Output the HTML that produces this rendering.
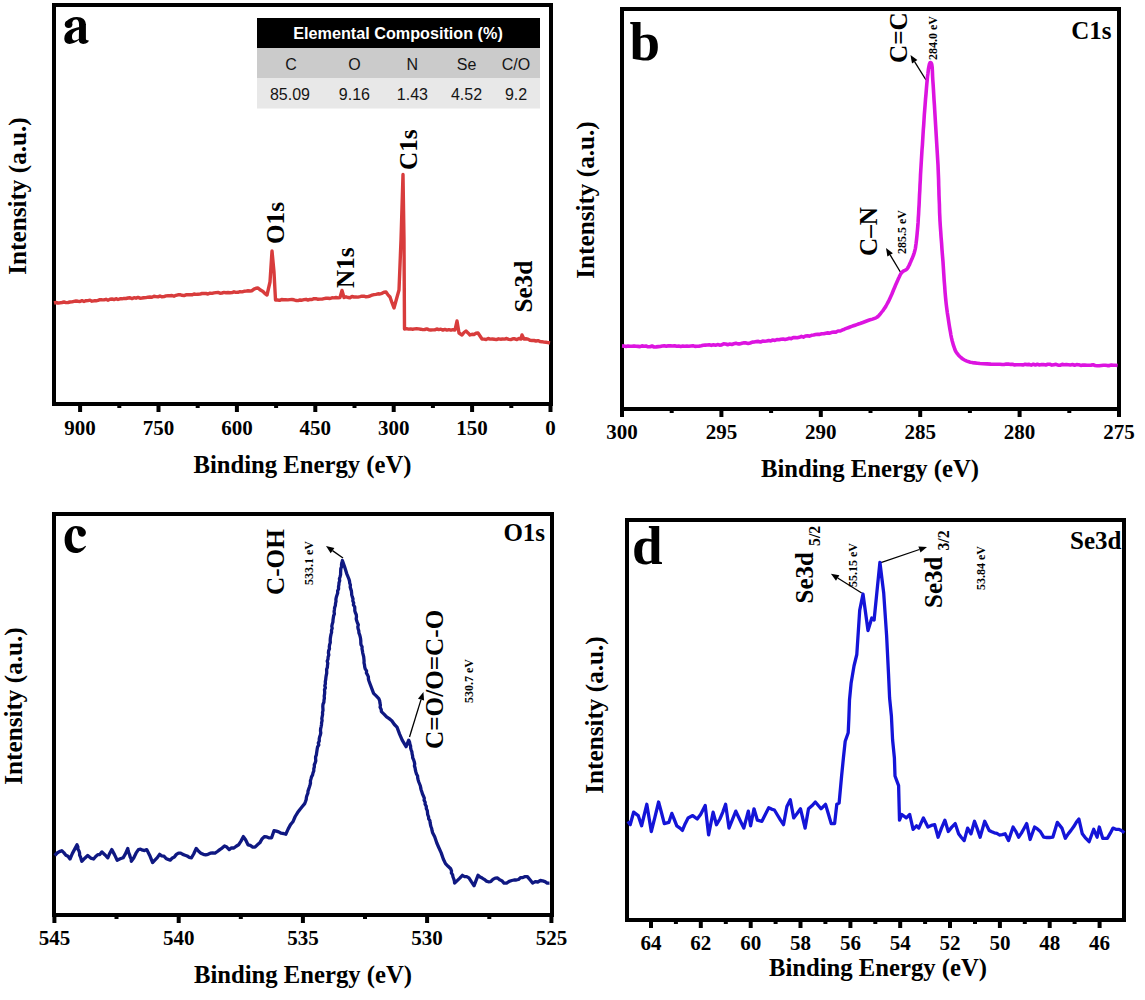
<!DOCTYPE html>
<html><head><meta charset="utf-8"><style>html,body{margin:0;padding:0;background:#fff}svg{display:block}</style></head>
<body><svg width="1145" height="1000" viewBox="0 0 1145 1000">
<rect width="1145" height="1000" fill="#fff"/>
<rect x="54.0" y="5.0" width="497" height="399" fill="none" stroke="#000" stroke-width="4"/>
<rect x="548.5" y="405" width="4" height="7" fill="#000"/>
<rect x="470.1" y="405" width="4" height="7" fill="#000"/>
<rect x="391.7" y="405" width="4" height="7" fill="#000"/>
<rect x="313.3" y="405" width="4" height="7" fill="#000"/>
<rect x="234.9" y="405" width="4" height="7" fill="#000"/>
<rect x="156.5" y="405" width="4" height="7" fill="#000"/>
<rect x="78.1" y="405" width="4" height="7" fill="#000"/>
<rect x="509.3" y="405" width="4" height="3" fill="#000"/>
<rect x="430.9" y="405" width="4" height="3" fill="#000"/>
<rect x="352.5" y="405" width="4" height="3" fill="#000"/>
<rect x="274.1" y="405" width="4" height="3" fill="#000"/>
<rect x="195.7" y="405" width="4" height="3" fill="#000"/>
<rect x="117.3" y="405" width="4" height="3" fill="#000"/>
<text x="550.5" y="434.5" text-anchor="middle" style="font-family:'Liberation Serif',serif;font-weight:bold;font-size:21px" >0</text>
<text x="472.1" y="434.5" text-anchor="middle" style="font-family:'Liberation Serif',serif;font-weight:bold;font-size:21px" >150</text>
<text x="393.7" y="434.5" text-anchor="middle" style="font-family:'Liberation Serif',serif;font-weight:bold;font-size:21px" >300</text>
<text x="315.3" y="434.5" text-anchor="middle" style="font-family:'Liberation Serif',serif;font-weight:bold;font-size:21px" >450</text>
<text x="236.9" y="434.5" text-anchor="middle" style="font-family:'Liberation Serif',serif;font-weight:bold;font-size:21px" >600</text>
<text x="158.5" y="434.5" text-anchor="middle" style="font-family:'Liberation Serif',serif;font-weight:bold;font-size:21px" >750</text>
<text x="80.1" y="434.5" text-anchor="middle" style="font-family:'Liberation Serif',serif;font-weight:bold;font-size:21px" >900</text>
<text x="302.5" y="473.0" text-anchor="middle" style="font-family:'Liberation Serif',serif;font-weight:bold;font-size:24.7px" >Binding Energy (eV)</text>
<text transform="translate(26.0,196.0) rotate(-90)" text-anchor="middle" style="font-family:'Liberation Serif',serif;font-weight:bold;font-size:25.2px" >Intensity (a.u.)</text>
<g fill="#000"><circle cx="68.6" cy="24.3" r="3.8"/><path d="M66,22.2 C68.5,18.6 72.5,17 76.8,17 C82.6,17 85.9,19.8 85.9,25 L79.1,25.5 C79.1,21.2 78,19.4 75.8,19.4 C73.9,19.4 72.7,20.6 72.2,22.8 Z"/><path d="M79.1,24 L85.9,24 L85.9,38.6 C85.9,40.1 86.6,40.6 88.4,40.1 L88.6,41.4 C86.8,43.2 84.8,43.9 83.1,43.9 C80.6,43.9 79.1,42.6 78.8,40.6 Z"/><path fill-rule="evenodd" d="M79.4,27.1 C73.5,28.3 64.3,30.6 64.3,38.6 C64.3,41.9 66.4,43.9 69.5,43.9 C72.6,43.9 75.8,42.5 79.4,39.6 Z M79.4,29.6 C75.3,30.7 72,32.6 72,36.9 C72,39.1 73,40.4 74.7,40.4 C76.4,40.4 78,39.6 79.4,38.6 Z"/></g>
<rect x="257" y="18" width="283" height="30" fill="#000"/>
<rect x="257" y="48" width="283" height="30" fill="#cbcbcb"/>
<rect x="257" y="78" width="283" height="30.5" fill="#e8e8e8"/>
<text x="398" y="39" text-anchor="middle" style="font-family:'Liberation Sans',sans-serif;font-weight:bold;font-size:16.2px" fill="#fff">Elemental Composition (%)</text>
<text x="291" y="70" text-anchor="middle" style="font-family:'Liberation Sans',sans-serif;font-size:16px" fill="#151515">C</text>
<text x="354.4" y="70" text-anchor="middle" style="font-family:'Liberation Sans',sans-serif;font-size:16px" fill="#151515">O</text>
<text x="412.4" y="70" text-anchor="middle" style="font-family:'Liberation Sans',sans-serif;font-size:16px" fill="#151515">N</text>
<text x="466.5" y="70" text-anchor="middle" style="font-family:'Liberation Sans',sans-serif;font-size:16px" fill="#151515">Se</text>
<text x="516" y="70" text-anchor="middle" style="font-family:'Liberation Sans',sans-serif;font-size:16px" fill="#151515">C/O</text>
<text x="290" y="100" text-anchor="middle" style="font-family:'Liberation Sans',sans-serif;font-size:16px" fill="#151515">85.09</text>
<text x="354.4" y="100" text-anchor="middle" style="font-family:'Liberation Sans',sans-serif;font-size:16px" fill="#151515">9.16</text>
<text x="412.4" y="100" text-anchor="middle" style="font-family:'Liberation Sans',sans-serif;font-size:16px" fill="#151515">1.43</text>
<text x="466.5" y="100" text-anchor="middle" style="font-family:'Liberation Sans',sans-serif;font-size:16px" fill="#151515">4.52</text>
<text x="516" y="100" text-anchor="middle" style="font-family:'Liberation Sans',sans-serif;font-size:16px" fill="#151515">9.2</text>
<text transform="translate(284.0,244.0) rotate(-90)" text-anchor="start" style="font-family:'Liberation Serif',serif;font-weight:bold;font-size:25.2px" >O1s</text>
<text transform="translate(353.5,288.0) rotate(-90)" text-anchor="start" style="font-family:'Liberation Serif',serif;font-weight:bold;font-size:25.2px" >N1s</text>
<text transform="translate(417.4,170.0) rotate(-90)" text-anchor="start" style="font-family:'Liberation Serif',serif;font-weight:bold;font-size:25.2px" >C1s</text>
<text transform="translate(531.8,312.6) rotate(-90)" text-anchor="start" style="font-family:'Liberation Serif',serif;font-weight:bold;font-size:25.2px" >Se3d</text>
<polyline points="54.0,303.0 56.0,302.5 58.0,303.0 60.0,302.8 62.0,302.5 64.0,302.0 66.0,302.6 68.0,302.5 70.0,302.0 72.0,301.9 74.0,301.4 76.0,301.0 78.0,301.3 80.0,301.5 82.0,300.7 84.0,301.5 86.0,300.7 88.0,300.6 90.0,300.2 92.0,301.2 94.0,300.8 96.0,300.8 98.0,300.4 100.0,299.6 102.0,299.8 104.0,299.9 106.0,299.3 108.0,300.2 110.0,299.3 112.0,299.0 114.0,299.6 116.0,298.7 118.0,299.5 120.0,298.8 122.0,298.8 124.0,298.4 126.0,298.5 128.0,298.0 130.0,297.7 132.0,298.6 134.0,297.7 136.0,298.2 138.0,297.4 140.0,298.2 142.0,298.0 144.0,297.7 146.0,297.6 148.0,297.2 150.0,297.0 152.0,297.2 154.0,296.3 156.0,296.6 158.0,296.9 160.0,296.0 162.0,296.8 164.0,296.6 166.0,295.9 168.0,295.8 170.0,295.7 172.0,295.5 174.0,296.2 176.0,295.3 178.0,294.8 180.0,294.7 182.0,295.3 184.0,295.6 186.0,294.8 188.0,294.7 190.0,294.7 192.0,294.8 194.0,294.0 196.0,294.4 198.0,294.2 200.0,294.1 202.0,293.5 204.0,293.4 206.0,293.5 208.0,294.0 210.0,293.2 212.0,293.4 214.0,292.9 216.0,292.6 218.0,292.4 220.0,293.2 222.0,293.0 224.0,292.4 226.0,292.7 228.0,292.5 230.0,292.7 232.0,292.6 234.0,291.8 236.0,292.4 238.0,292.3 240.0,291.7 242.0,291.9 244.0,291.3 246.0,291.1 248.0,290.8 250.0,291.0 252.0,290.7 254.0,289.1 256.0,288.2 258.0,288.0 260.5,290.1 263.0,291.5 265.0,293.6 267.0,295.0 270.0,282.0 272.0,251.0 274.0,272.0 275.5,300.0 277.5,300.0 279.6,300.4 281.6,299.5 283.7,299.7 285.7,299.7 287.8,299.9 289.8,299.6 291.8,299.5 293.9,299.8 295.9,300.5 298.0,300.6 300.0,300.0 302.0,300.2 304.0,299.7 306.0,299.3 308.0,300.1 310.0,299.4 312.0,299.5 314.0,298.6 316.0,298.7 318.0,299.3 320.0,299.1 322.0,299.1 324.0,298.6 326.0,298.3 328.0,298.3 330.0,298.5 332.0,297.8 334.0,297.9 336.0,297.5 338.0,297.9 340.0,297.5 342.0,290.5 344.0,297.5 346.0,296.8 348.0,297.5 350.0,297.7 352.0,296.5 354.0,297.0 356.0,297.0 358.0,297.1 360.0,296.7 362.0,296.2 364.0,296.2 366.0,296.8 368.0,296.6 370.0,296.0 372.0,295.2 374.0,294.7 376.0,294.3 378.0,293.8 380.0,294.0 382.0,293.3 384.0,292.2 386.0,292.0 388.0,294.9 390.0,297.0 392.0,302.7 394.0,308.0 396.5,299.0 399.0,290.0 401.0,240.0 403.0,174.5 404.0,240.0 404.5,329.0 406.5,328.6 408.5,329.1 410.6,328.9 412.6,329.2 414.6,328.9 416.6,328.8 418.6,328.9 420.7,329.2 422.7,329.6 424.7,329.5 426.7,328.9 428.7,329.7 430.8,330.0 432.8,329.9 434.8,329.9 436.8,329.0 438.8,329.6 440.9,329.2 442.9,330.1 444.9,329.4 446.9,330.1 448.9,329.6 451.0,330.2 453.0,329.7 455.0,330.0 457.0,321.0 459.0,333.0 462.0,335.0 464.0,332.5 466.0,331.0 468.0,332.9 470.0,335.0 472.0,334.3 474.0,334.5 476.0,333.3 478.0,333.0 480.0,336.0 482.0,339.0 484.1,339.1 486.1,339.5 488.2,338.5 490.2,339.1 492.3,339.0 494.3,339.3 496.4,339.6 498.4,338.8 500.5,339.2 502.5,339.0 504.6,339.1 506.6,338.5 508.7,339.4 510.7,339.6 512.8,338.8 514.8,338.8 516.9,339.6 518.9,338.5 521.0,339.0 522.0,335.0 524.0,339.0 526.0,338.8 528.0,339.1 530.0,340.3 532.0,340.5 534.0,340.5 536.0,341.0 538.0,340.6 540.0,341.6 542.0,341.7 544.0,342.1 546.0,342.3 548.0,342.6 550.0,343.0" fill="none" stroke="#d83c3c" stroke-width="3.4" stroke-linejoin="round"/>
<rect x="622.0" y="9.0" width="497" height="400" fill="none" stroke="#000" stroke-width="4"/>
<rect x="1117.0" y="410" width="4" height="7" fill="#000"/>
<rect x="1017.6" y="410" width="4" height="7" fill="#000"/>
<rect x="918.2" y="410" width="4" height="7" fill="#000"/>
<rect x="818.8" y="410" width="4" height="7" fill="#000"/>
<rect x="719.4" y="410" width="4" height="7" fill="#000"/>
<rect x="620.0" y="410" width="4" height="7" fill="#000"/>
<rect x="1067.3" y="410" width="4" height="3" fill="#000"/>
<rect x="967.9" y="410" width="4" height="3" fill="#000"/>
<rect x="868.5" y="410" width="4" height="3" fill="#000"/>
<rect x="769.1" y="410" width="4" height="3" fill="#000"/>
<rect x="669.7" y="410" width="4" height="3" fill="#000"/>
<text x="1119.0" y="439.0" text-anchor="middle" style="font-family:'Liberation Serif',serif;font-weight:bold;font-size:21px" >275</text>
<text x="1019.6" y="439.0" text-anchor="middle" style="font-family:'Liberation Serif',serif;font-weight:bold;font-size:21px" >280</text>
<text x="920.2" y="439.0" text-anchor="middle" style="font-family:'Liberation Serif',serif;font-weight:bold;font-size:21px" >285</text>
<text x="820.8" y="439.0" text-anchor="middle" style="font-family:'Liberation Serif',serif;font-weight:bold;font-size:21px" >290</text>
<text x="721.4" y="439.0" text-anchor="middle" style="font-family:'Liberation Serif',serif;font-weight:bold;font-size:21px" >295</text>
<text x="622.0" y="439.0" text-anchor="middle" style="font-family:'Liberation Serif',serif;font-weight:bold;font-size:21px" >300</text>
<text x="870.0" y="477.0" text-anchor="middle" style="font-family:'Liberation Serif',serif;font-weight:bold;font-size:24.7px" >Binding Energy (eV)</text>
<text transform="translate(594.0,200.0) rotate(-90)" text-anchor="middle" style="font-family:'Liberation Serif',serif;font-weight:bold;font-size:25.2px" >Intensity (a.u.)</text>
<text x="629.5" y="60.0" text-anchor="start" style="font-family:'Liberation Serif',serif;font-weight:bold;font-size:55px" >b</text>
<text x="1111.5" y="39.0" text-anchor="end" style="font-family:'Liberation Serif',serif;font-weight:bold;font-size:25px" >C1s</text>
<text transform="translate(906.5,63.0) rotate(-90)" text-anchor="start" style="font-family:'Liberation Serif',serif;font-weight:bold;font-size:25.2px" >C=C</text>
<text transform="translate(936.5,60.0) rotate(-90)" text-anchor="start" style="font-family:'Liberation Serif',serif;font-weight:bold;font-size:12px" >284.0 eV</text>
<text transform="translate(877.0,256.0) rotate(-90)" text-anchor="start" style="font-family:'Liberation Serif',serif;font-weight:bold;font-size:25.2px" >C–N</text>
<text transform="translate(906.0,254.0) rotate(-90)" text-anchor="start" style="font-family:'Liberation Serif',serif;font-weight:bold;font-size:12px" >285.5 eV</text>
<line x1="926" y1="80" x2="914.7" y2="61.8" stroke="#000" stroke-width="1.3"/>
<polygon points="910.5,55 917.4,60.1 912.0,63.5" fill="#000"/>
<line x1="901" y1="273" x2="890.1" y2="254.9" stroke="#000" stroke-width="1.3"/>
<polygon points="886,248 892.9,253.2 887.4,256.5" fill="#000"/>
<polyline points="622.0,345.9 624.0,346.1 626.0,346.5 628.0,346.1 630.0,346.2 632.0,346.3 634.0,345.9 636.0,346.3 638.0,346.4 640.0,346.6 642.0,345.9 644.0,346.2 646.0,346.0 648.0,346.8 650.0,346.7 652.0,346.0 654.1,347.0 656.1,346.9 658.2,346.6 660.2,346.5 662.3,346.0 664.3,345.8 666.4,346.3 668.4,345.8 670.5,345.9 672.5,346.0 674.6,345.7 676.6,346.2 678.7,346.1 680.7,346.5 682.8,346.1 684.8,346.2 686.9,346.1 688.9,346.2 691.0,346.0 693.0,345.8 695.0,346.4 697.1,346.3 699.1,346.1 701.2,345.8 703.2,345.3 705.2,345.1 707.3,345.0 709.3,344.7 711.4,345.4 713.4,344.8 715.5,345.2 717.5,344.6 719.5,345.1 721.6,344.9 723.6,343.9 725.7,344.0 727.7,344.7 729.8,344.1 731.8,344.5 733.8,343.8 735.9,343.3 737.9,343.9 740.0,343.9 742.0,343.2 744.1,342.8 746.1,342.9 748.2,343.4 750.2,343.0 752.3,342.1 754.3,342.0 756.4,341.6 758.4,341.4 760.5,342.0 762.6,341.1 764.6,341.3 766.7,341.0 768.7,340.5 770.8,340.9 772.8,340.0 774.9,340.4 776.9,339.6 779.0,339.7 781.0,339.2 783.1,339.0 785.1,339.5 787.1,339.1 789.2,338.3 791.2,338.6 793.2,337.6 795.3,337.6 797.3,337.8 799.3,337.3 801.4,336.4 803.4,337.1 805.4,336.0 807.5,335.8 809.5,336.1 811.5,335.3 813.6,335.0 815.6,334.5 817.6,334.2 819.7,334.4 821.7,333.7 823.7,333.8 825.8,333.2 827.8,332.9 829.8,333.2 831.9,332.3 833.9,332.1 835.9,332.1 838.0,331.0 840.0,331.0 841.1,330.6 842.6,329.9 844.4,329.2 846.3,328.4 848.2,327.7 850.0,327.0 851.7,326.4 853.4,325.8 855.1,325.2 856.8,324.6 858.4,324.0 860.0,323.5 861.4,323.0 862.8,322.5 864.1,322.0 865.4,321.5 866.7,321.0 868.0,320.5 869.4,320.0 870.9,319.6 872.5,319.1 873.9,318.6 875.3,318.1 876.5,317.5 877.5,316.9 878.3,316.2 879.0,315.5 879.6,314.7 880.3,313.9 881.0,313.0 881.8,312.0 882.6,311.0 883.5,309.8 884.3,308.6 885.2,307.4 886.0,306.0 886.8,304.5 887.6,303.0 888.5,301.4 889.3,299.7 890.1,297.9 891.0,296.0 891.9,294.0 892.8,291.8 893.7,289.5 894.7,287.2 895.6,285.0 896.5,283.0 897.4,281.1 898.2,279.1 899.1,277.3 899.9,275.5 900.7,274.0 901.6,272.7 902.5,271.7 903.4,271.1 904.4,270.6 905.3,270.2 906.2,269.7 907.0,269.0 907.7,268.0 908.3,267.0 908.9,265.8 909.5,264.6 910.0,263.3 910.6,262.0 911.2,260.6 911.9,259.1 912.5,257.6 913.1,256.1 913.7,254.5 914.2,253.0 914.6,251.6 914.9,250.3 915.2,249.1 915.5,247.7 915.7,246.0 916.0,244.0 916.3,241.6 916.6,239.0 916.9,236.1 917.2,232.9 917.5,229.6 917.8,226.0 918.1,222.2 918.3,218.1 918.6,213.8 918.8,209.3 919.1,204.7 919.3,200.0 919.5,195.2 919.8,190.3 920.0,185.2 920.3,180.1 920.5,175.0 920.8,170.0 921.1,165.0 921.4,160.0 921.7,155.0 922.0,150.0 922.4,145.0 922.7,140.0 923.0,135.0 923.3,130.0 923.7,125.0 924.0,120.0 924.3,115.0 924.7,110.0 925.1,104.8 925.5,99.4 926.0,94.0 926.4,88.8 926.8,84.1 927.2,80.0 927.5,76.6 927.9,73.8 928.2,71.3 928.4,69.3 928.7,67.5 929.0,66.0 929.3,64.7 929.5,63.8 929.8,63.2 930.0,62.8 930.3,62.6 930.5,62.5 930.8,62.6 931.0,62.8 931.3,63.2 931.6,63.8 931.8,64.7 932.0,66.0 932.2,67.5 932.3,69.3 932.4,71.3 932.5,73.8 932.6,76.6 932.8,80.0 933.1,84.1 933.4,88.8 933.7,94.0 934.0,99.4 934.4,104.8 934.7,110.0 935.0,115.0 935.3,120.0 935.6,125.0 935.9,130.0 936.2,135.0 936.5,140.0 936.8,145.0 937.1,150.0 937.4,155.0 937.7,160.0 938.0,165.0 938.2,170.0 938.4,175.0 938.6,180.1 938.7,185.2 938.9,190.3 939.0,195.2 939.2,200.0 939.4,204.4 939.5,208.6 939.6,212.6 939.8,216.7 940.0,221.1 940.3,226.0 940.7,231.4 941.1,237.3 941.6,243.4 942.0,249.6 942.5,255.9 943.0,262.0 943.4,268.1 943.8,274.3 944.2,280.6 944.7,286.7 945.1,292.5 945.6,298.0 946.1,303.1 946.7,308.0 947.3,312.6 948.0,317.0 948.6,321.1 949.2,325.0 949.8,328.6 950.4,331.9 950.9,335.0 951.5,337.9 952.1,340.5 952.8,343.0 953.4,345.2 954.1,347.2 954.7,349.0 955.4,350.7 956.3,352.2 957.3,353.7 958.5,355.2 959.8,356.5 961.2,357.8 962.8,359.0 964.5,360.0 966.3,360.9 968.2,361.6 970.3,362.2 972.5,362.6 974.8,362.9 977.3,363.2 980.0,363.5 983.2,363.7 986.9,363.9 990.9,364.1 994.6,364.2 997.8,364.2 1000.0,364.3 1002.1,364.5 1004.2,364.5 1006.3,364.1 1008.4,364.0 1010.5,364.4 1012.5,364.3 1014.6,364.9 1016.7,364.8 1018.8,364.7 1020.9,364.7 1023.0,364.9 1025.1,364.3 1027.1,364.6 1029.2,364.4 1031.2,365.1 1033.3,364.3 1035.4,365.0 1037.4,364.3 1039.5,364.9 1041.6,364.5 1043.6,364.6 1045.7,365.0 1047.8,364.2 1049.8,364.3 1051.9,365.1 1053.9,364.7 1056.0,364.3 1058.1,365.2 1060.1,365.2 1062.2,364.4 1064.2,364.7 1066.3,364.5 1068.4,364.7 1070.4,365.0 1072.5,364.6 1074.6,365.2 1076.6,364.6 1078.7,364.7 1080.8,365.4 1082.8,365.0 1084.9,365.1 1086.9,365.3 1089.0,365.2 1091.0,365.1 1093.1,364.8 1095.1,365.5 1097.2,365.8 1099.2,365.8 1101.3,365.5 1103.3,365.2 1105.3,365.2 1107.4,365.6 1109.4,365.6 1111.5,365.0 1113.5,365.2 1115.6,365.3 1117.6,365.5" fill="none" stroke="#dc14e0" stroke-width="3.6" stroke-linejoin="round"/>
<rect x="54.0" y="514.0" width="498" height="401" fill="none" stroke="#000" stroke-width="4"/>
<rect x="549.4" y="916" width="4" height="7" fill="#000"/>
<rect x="425.1" y="916" width="4" height="7" fill="#000"/>
<rect x="300.9" y="916" width="4" height="7" fill="#000"/>
<rect x="176.7" y="916" width="4" height="7" fill="#000"/>
<rect x="52.4" y="916" width="4" height="7" fill="#000"/>
<rect x="487.3" y="916" width="4" height="3" fill="#000"/>
<rect x="363.0" y="916" width="4" height="3" fill="#000"/>
<rect x="238.8" y="916" width="4" height="3" fill="#000"/>
<rect x="114.5" y="916" width="4" height="3" fill="#000"/>
<text x="551.4" y="945.0" text-anchor="middle" style="font-family:'Liberation Serif',serif;font-weight:bold;font-size:21px" >525</text>
<text x="427.1" y="945.0" text-anchor="middle" style="font-family:'Liberation Serif',serif;font-weight:bold;font-size:21px" >530</text>
<text x="302.9" y="945.0" text-anchor="middle" style="font-family:'Liberation Serif',serif;font-weight:bold;font-size:21px" >535</text>
<text x="178.7" y="945.0" text-anchor="middle" style="font-family:'Liberation Serif',serif;font-weight:bold;font-size:21px" >540</text>
<text x="54.4" y="945.0" text-anchor="middle" style="font-family:'Liberation Serif',serif;font-weight:bold;font-size:21px" >545</text>
<text x="303.0" y="983.0" text-anchor="middle" style="font-family:'Liberation Serif',serif;font-weight:bold;font-size:24.7px" >Binding Energy (eV)</text>
<text transform="translate(22.0,706.0) rotate(-90)" text-anchor="middle" style="font-family:'Liberation Serif',serif;font-weight:bold;font-size:25.2px" >Intensity (a.u.)</text>
<path fill="#000" d="M86,546.5 C83.6,550 80.5,553.1 75.6,553.1 C68.8,553.1 64.6,547.6 64.6,540 C64.6,531.8 69.8,526 76,526 C81.6,526 85.9,528.9 85.9,532.7 C85.9,535 84.1,536.7 81.9,536.7 C79.4,536.7 78.2,535.1 77.9,532.6 C77.5,529.9 77,528.3 75.5,528.3 C73,528.3 71.8,533 71.8,539.3 C71.8,545.4 74.5,548.5 78.6,548.5 C81.5,548.5 83.8,547.3 85.4,545.7 Z"/>
<text x="545.1" y="540.6" text-anchor="end" style="font-family:'Liberation Serif',serif;font-weight:bold;font-size:25px" >O1s</text>
<text transform="translate(284.0,595.0) rotate(-90)" text-anchor="start" style="font-family:'Liberation Serif',serif;font-weight:bold;font-size:25.2px" >C-OH</text>
<text transform="translate(313.0,585.0) rotate(-90)" text-anchor="start" style="font-family:'Liberation Serif',serif;font-weight:bold;font-size:12px" >533.1 eV</text>
<text transform="translate(442.6,749.0) rotate(-90)" text-anchor="start" style="font-family:'Liberation Serif',serif;font-weight:bold;font-size:25.2px" >C=O/O=C-O</text>
<text transform="translate(472.5,703.0) rotate(-90)" text-anchor="start" style="font-family:'Liberation Serif',serif;font-weight:bold;font-size:12px" >530.7 eV</text>
<line x1="343" y1="558" x2="332.5" y2="550.6" stroke="#000" stroke-width="1.3"/>
<polygon points="326,546 334.4,548.0 330.7,553.2" fill="#000"/>
<line x1="409.5" y1="737" x2="421.0" y2="699.6" stroke="#000" stroke-width="1.3"/>
<polygon points="423.4,692 424.1,700.6 418.0,698.7" fill="#000"/>
<polyline points="54.7,855.5 57.1,853.0 59.4,851.6 61.8,850.7 63.8,852.6 65.9,855.2 68.0,856.3 70.0,859.0 72.3,853.6 74.7,849.1 77.0,844.8 77.9,846.9 77.8,848.9 79.0,851.0 79.6,853.0 79.6,855.1 80.6,857.2 81.1,859.2 81.8,861.3 84.8,858.2 87.7,855.5 90.7,858.1 93.6,859.0 95.7,856.5 97.8,854.6 99.8,854.5 101.9,851.9 104.8,854.7 107.8,857.8 109.8,853.2 111.8,849.6 114.5,854.6 117.2,860.2 120.2,858.8 123.1,857.8 125.4,853.9 127.8,848.4 128.1,850.5 128.7,852.7 129.6,854.8 130.2,857.0 131.2,859.1 131.3,861.3 133.7,858.0 136.0,853.2 138.4,849.6 140.5,849.1 142.6,850.2 144.6,850.5 146.7,849.6 149.6,855.2 152.6,862.5 154.9,860.2 157.3,857.7 159.6,854.3 161.7,855.8 163.9,856.2 166.0,858.4 168.2,859.4 170.3,860.2 172.4,857.9 174.4,856.9 176.4,854.4 178.5,853.1 180.7,853.1 182.8,854.4 185.0,855.2 187.2,856.0 189.3,857.3 191.5,857.8 193.8,853.7 196.2,848.4 198.6,851.2 200.9,853.2 203.3,854.3 205.6,854.9 208.0,854.3 210.3,853.2 212.7,852.8 215.0,853.1 217.4,851.5 219.8,849.6 222.1,848.1 224.5,846.0 226.8,847.1 229.2,849.6 231.5,847.8 233.9,848.0 236.2,846.2 238.6,844.8 241.0,841.1 243.4,836.6 245.7,840.0 248.0,844.8 250.3,845.4 252.7,847.1 255.0,847.2 257.4,844.8 259.8,842.8 262.2,838.7 264.6,836.6 266.9,836.9 269.3,837.9 271.6,837.8 274.0,830.7 276.4,831.2 278.7,831.9 281.1,833.2 283.4,833.5 285.8,834.2 288.1,829.1 290.5,824.6 292.9,821.8 295.2,816.5 297.6,812.6 299.9,809.5 302.3,806.5 304.7,803.6 305.5,801.5 306.2,799.5 306.4,797.4 307.0,795.3 307.9,793.2 308.0,791.1 308.7,789.1 309.4,787.0 310.0,785.0 310.5,783.0 310.4,780.9 311.0,778.9 311.5,776.9 312.6,774.9 313.0,772.8 313.8,770.8 313.8,768.8 314.4,766.8 314.3,764.8 315.2,762.8 315.8,760.8 315.6,758.9 315.6,756.9 316.4,754.9 316.6,752.9 316.9,750.9 317.2,748.9 317.6,746.9 318.8,744.9 318.3,743.0 319.3,741.0 319.2,739.0 319.6,737.0 320.3,735.0 320.8,732.9 320.5,730.9 320.6,728.8 321.1,726.8 321.5,724.7 321.6,722.7 322.1,720.6 321.8,718.6 322.2,716.5 322.6,714.5 322.5,712.4 323.0,710.4 322.9,708.3 322.8,706.3 323.0,704.2 323.9,702.2 324.0,700.1 324.4,698.1 324.2,696.0 324.6,693.9 324.7,691.9 324.5,689.8 325.4,687.8 324.8,685.7 325.4,683.7 325.3,681.6 325.7,679.6 325.9,677.5 326.2,675.5 326.7,673.4 326.7,671.4 326.6,669.3 327.4,667.3 327.5,665.2 327.8,663.2 327.2,661.1 328.0,659.1 328.1,657.0 328.8,654.9 328.4,652.9 328.6,650.8 329.5,648.8 329.3,646.7 329.6,644.7 330.3,642.6 330.2,640.6 330.3,638.5 330.6,636.5 331.0,634.4 331.6,632.4 331.5,630.3 332.2,628.3 331.8,626.2 332.2,624.2 332.9,622.1 333.0,620.1 333.3,618.0 333.6,615.9 334.4,613.8 334.1,611.8 334.4,609.7 334.6,607.6 335.4,605.5 335.5,603.4 336.0,601.4 335.9,599.3 336.3,597.2 337.0,595.1 337.7,593.0 337.6,591.0 338.6,588.9 338.5,586.8 338.9,584.8 339.0,582.8 339.7,580.7 339.4,578.7 340.1,576.7 340.6,574.7 340.6,572.6 340.7,570.6 340.8,568.6 341.6,566.6 341.5,564.5 342.0,562.5 342.4,560.5 344.6,566.7 346.7,573.6 348.9,579.0 349.5,581.0 349.7,583.0 350.4,585.0 350.2,587.0 350.7,588.9 351.4,590.9 351.6,592.9 351.7,594.9 352.3,596.9 353.0,598.9 352.8,600.9 353.7,602.9 353.4,604.8 354.7,606.8 354.8,608.8 354.8,610.8 355.4,612.8 356.3,614.8 356.5,616.8 356.2,618.8 356.7,620.8 357.4,622.8 358.3,624.8 357.8,626.8 358.1,628.8 358.8,630.8 358.9,632.8 359.7,634.8 360.2,636.8 360.6,638.8 360.8,640.8 360.8,642.8 361.0,644.8 362.1,646.8 362.0,648.8 362.4,650.8 362.7,652.8 363.2,654.8 363.7,656.8 363.9,658.8 364.1,660.8 364.0,662.8 364.5,664.8 364.7,666.8 365.2,668.8 366.6,670.9 366.4,672.9 367.5,674.9 368.4,676.9 368.4,679.0 369.0,681.0 369.7,683.0 373.6,693.4 376.2,695.9 378.8,698.6 379.7,700.8 379.9,702.9 380.4,705.1 380.1,707.3 381.2,709.4 381.4,711.6 384.0,714.1 386.6,716.8 389.2,718.6 391.8,720.7 394.4,724.5 397.0,727.2 399.6,734.1 402.2,740.2 406.1,746.7 408.7,740.2 409.6,742.2 409.9,744.1 410.6,746.0 410.6,748.0 411.2,750.0 411.9,751.9 412.1,753.8 412.6,755.8 412.7,757.8 413.6,759.8 414.3,761.9 414.7,763.9 414.4,765.9 415.1,767.9 415.4,770.0 415.9,772.0 416.5,774.0 417.6,776.0 417.7,778.0 418.2,780.0 418.8,782.0 419.6,784.0 420.4,786.0 420.7,788.0 421.2,790.0 421.9,792.0 422.5,794.0 423.4,796.0 424.3,798.1 424.1,800.2 425.2,802.2 425.1,804.3 426.3,806.4 426.3,808.5 427.3,810.6 427.5,812.6 427.7,814.7 428.6,816.8 428.7,818.8 429.9,820.7 430.1,822.6 430.5,824.6 430.9,826.5 431.7,828.5 432.0,830.4 432.5,832.4 434.7,836.8 436.8,843.0 439.0,848.0 441.2,852.9 443.3,859.0 445.5,863.6 448.1,866.3 450.7,868.8 451.5,870.8 451.4,872.9 452.6,874.9 453.0,877.0 453.8,879.0 454.4,881.1 454.6,883.1 457.2,880.6 459.8,878.1 462.4,875.3 464.6,876.6 466.7,876.6 468.9,877.9 471.5,881.9 474.1,885.7 478.0,875.3 480.1,877.1 482.2,878.1 484.2,879.3 486.3,881.1 488.4,881.8 490.7,881.7 492.9,879.4 495.2,878.1 497.5,877.9 499.7,879.8 501.8,880.7 504.0,883.1 506.6,883.1 509.2,881.3 511.8,880.5 514.0,880.0 516.3,880.0 518.5,879.5 520.7,877.6 522.9,877.6 525.2,876.6 527.4,876.6 530.0,879.8 532.6,883.1 535.2,881.6 537.8,882.0 540.4,880.5 542.7,880.9 545.0,881.6 547.2,883.2 549.5,883.1" fill="none" stroke="#0f1882" stroke-width="3.3" stroke-linejoin="round"/>
<rect x="627.0" y="520.0" width="497" height="400" fill="none" stroke="#000" stroke-width="4"/>
<rect x="1097.6" y="921" width="4" height="7" fill="#000"/>
<rect x="1047.7" y="921" width="4" height="7" fill="#000"/>
<rect x="997.9" y="921" width="4" height="7" fill="#000"/>
<rect x="948.0" y="921" width="4" height="7" fill="#000"/>
<rect x="898.2" y="921" width="4" height="7" fill="#000"/>
<rect x="848.4" y="921" width="4" height="7" fill="#000"/>
<rect x="798.5" y="921" width="4" height="7" fill="#000"/>
<rect x="748.7" y="921" width="4" height="7" fill="#000"/>
<rect x="698.8" y="921" width="4" height="7" fill="#000"/>
<rect x="649.0" y="921" width="4" height="7" fill="#000"/>
<rect x="1072.6" y="921" width="4" height="3" fill="#000"/>
<rect x="1022.8" y="921" width="4" height="3" fill="#000"/>
<rect x="973.0" y="921" width="4" height="3" fill="#000"/>
<rect x="923.1" y="921" width="4" height="3" fill="#000"/>
<rect x="873.3" y="921" width="4" height="3" fill="#000"/>
<rect x="823.4" y="921" width="4" height="3" fill="#000"/>
<rect x="773.6" y="921" width="4" height="3" fill="#000"/>
<rect x="723.8" y="921" width="4" height="3" fill="#000"/>
<rect x="673.9" y="921" width="4" height="3" fill="#000"/>
<text x="1099.6" y="950.0" text-anchor="middle" style="font-family:'Liberation Serif',serif;font-weight:bold;font-size:21px" >46</text>
<text x="1049.7" y="950.0" text-anchor="middle" style="font-family:'Liberation Serif',serif;font-weight:bold;font-size:21px" >48</text>
<text x="999.9" y="950.0" text-anchor="middle" style="font-family:'Liberation Serif',serif;font-weight:bold;font-size:21px" >50</text>
<text x="950.0" y="950.0" text-anchor="middle" style="font-family:'Liberation Serif',serif;font-weight:bold;font-size:21px" >52</text>
<text x="900.2" y="950.0" text-anchor="middle" style="font-family:'Liberation Serif',serif;font-weight:bold;font-size:21px" >54</text>
<text x="850.4" y="950.0" text-anchor="middle" style="font-family:'Liberation Serif',serif;font-weight:bold;font-size:21px" >56</text>
<text x="800.5" y="950.0" text-anchor="middle" style="font-family:'Liberation Serif',serif;font-weight:bold;font-size:21px" >58</text>
<text x="750.7" y="950.0" text-anchor="middle" style="font-family:'Liberation Serif',serif;font-weight:bold;font-size:21px" >60</text>
<text x="700.8" y="950.0" text-anchor="middle" style="font-family:'Liberation Serif',serif;font-weight:bold;font-size:21px" >62</text>
<text x="651.0" y="950.0" text-anchor="middle" style="font-family:'Liberation Serif',serif;font-weight:bold;font-size:21px" >64</text>
<text x="878.0" y="976.0" text-anchor="middle" style="font-family:'Liberation Serif',serif;font-weight:bold;font-size:24.7px" >Binding Energy (eV)</text>
<text transform="translate(603.0,715.0) rotate(-90)" text-anchor="middle" style="font-family:'Liberation Serif',serif;font-weight:bold;font-size:25.2px" >Intensity (a.u.)</text>
<text x="632.0" y="564.0" text-anchor="start" style="font-family:'Liberation Serif',serif;font-weight:bold;font-size:55px" >d</text>
<text x="1121.5" y="549.0" text-anchor="end" style="font-family:'Liberation Serif',serif;font-weight:bold;font-size:25px" >Se3d</text>
<text transform="translate(812.5,603.4) rotate(-90)" style="font-family:'Liberation Serif',serif;font-weight:bold;font-size:25px">Se3d<tspan dx="6" dy="7" style="font-size:15.8px">5/2</tspan></text>
<text transform="translate(942,608) rotate(-90)" style="font-family:'Liberation Serif',serif;font-weight:bold;font-size:25px">Se3d<tspan dx="6" dy="7" style="font-size:15.8px">3/2</tspan></text>
<text transform="translate(857.0,587.0) rotate(-90)" text-anchor="start" style="font-family:'Liberation Serif',serif;font-weight:bold;font-size:12px" >55.15 eV</text>
<text transform="translate(984.6,590.0) rotate(-90)" text-anchor="start" style="font-family:'Liberation Serif',serif;font-weight:bold;font-size:12px" >53.84 eV</text>
<line x1="861.7" y1="593" x2="837.7" y2="578.0" stroke="#000" stroke-width="1.3"/>
<polygon points="830.9,573.8 839.4,575.3 836.0,580.7" fill="#000"/>
<line x1="880.9" y1="562.7" x2="919.4" y2="549.5" stroke="#000" stroke-width="1.3"/>
<polygon points="927,546.9 920.5,552.5 918.4,546.5" fill="#000"/>
<polyline points="627.9,821.3 630.2,824.7 633.6,812.2 638.2,815.6 641.6,825.8 644.2,815.0 646.8,804.3 651.3,831.5 655.0,816.8 658.6,802.0 661.5,812.8 664.3,823.6 668.8,822.4 671.8,813.4 674.3,819.5 676.8,825.8 679.6,827.8 682.4,830.4 685.2,823.7 688.1,817.9 692.7,815.6 697.2,819.0 700.6,814.5 705.2,805.4 708.6,834.9 713.1,812.2 716.5,824.7 719.9,819.0 722.8,812.1 725.6,804.3 729.0,828.1 732.4,819.7 735.8,811.1 738.5,817.0 741.1,822.5 743.8,828.1 748.3,811.1 750.6,825.8 754.0,808.8 757.4,820.2 761.9,821.3 765.3,814.4 768.7,807.7 771.5,809.1 774.4,810.0 777.4,815.0 780.5,820.1 783.5,824.7 786.9,806.5 790.3,799.7 793.7,817.9 797.1,813.5 800.5,808.8 805.1,828.1 808.5,808.8 811.9,805.8 815.3,802.0 818.1,805.3 821.0,808.8 825.5,804.3 828.4,814.0 831.2,823.6 834.6,823.6 836.8,804.3 839.1,803.1 841.6,776.0 843.4,758.0 845.2,741.2 848.2,732.8 848.8,719.6 849.5,700.0 851.1,683.3 854.0,666.0 856.8,654.5 859.7,610.3 863.0,594.0 865.5,612.2 868.0,630.5 871.8,618.0 874.1,620.0 877.0,591.1 879.9,562.3 883.7,593.0 886.6,635.3 888.5,673.7 889.6,698.0 891.4,716.0 892.6,740.0 894.4,758.0 895.0,776.0 898.6,785.6 899.5,820.2 901.8,814.5 906.3,817.9 909.7,814.5 913.1,829.3 916.5,825.8 918.8,828.1 923.4,817.9 927.9,827.0 931.3,825.4 934.7,824.7 938.1,837.2 941.5,828.1 944.9,820.2 948.3,831.5 951.8,827.1 955.2,823.6 958.6,833.8 961.4,837.5 964.2,840.6 967.6,828.1 971.0,833.8 974.5,821.3 977.3,828.9 980.1,837.2 984.7,821.3 989.2,830.4 991.8,831.7 994.3,832.8 996.9,833.3 999.4,835.0 1002.2,834.7 1005.1,833.8 1008.5,840.6 1013.1,827.0 1015.9,831.5 1018.7,837.2 1021.4,833.1 1024.0,828.5 1026.7,823.6 1030.1,839.5 1034.6,827.0 1037.4,828.9 1040.3,831.5 1043.7,837.2 1046.7,837.5 1049.8,837.5 1052.8,837.2 1057.3,822.4 1061.9,828.1 1065.3,838.3 1068.2,833.9 1071.0,830.4 1073.6,826.8 1076.3,822.3 1078.9,819.0 1082.3,833.8 1085.7,838.2 1089.1,841.7 1093.7,829.3 1097.1,837.2 1099.3,827.0 1102.7,838.3 1107.3,838.3 1110.2,833.4 1113.0,828.1 1115.8,829.3 1118.6,829.3 1121.4,830.5 1124.3,832.7" fill="none" stroke="#1414d8" stroke-width="3.3" stroke-linejoin="round"/>
</svg></body></html>
